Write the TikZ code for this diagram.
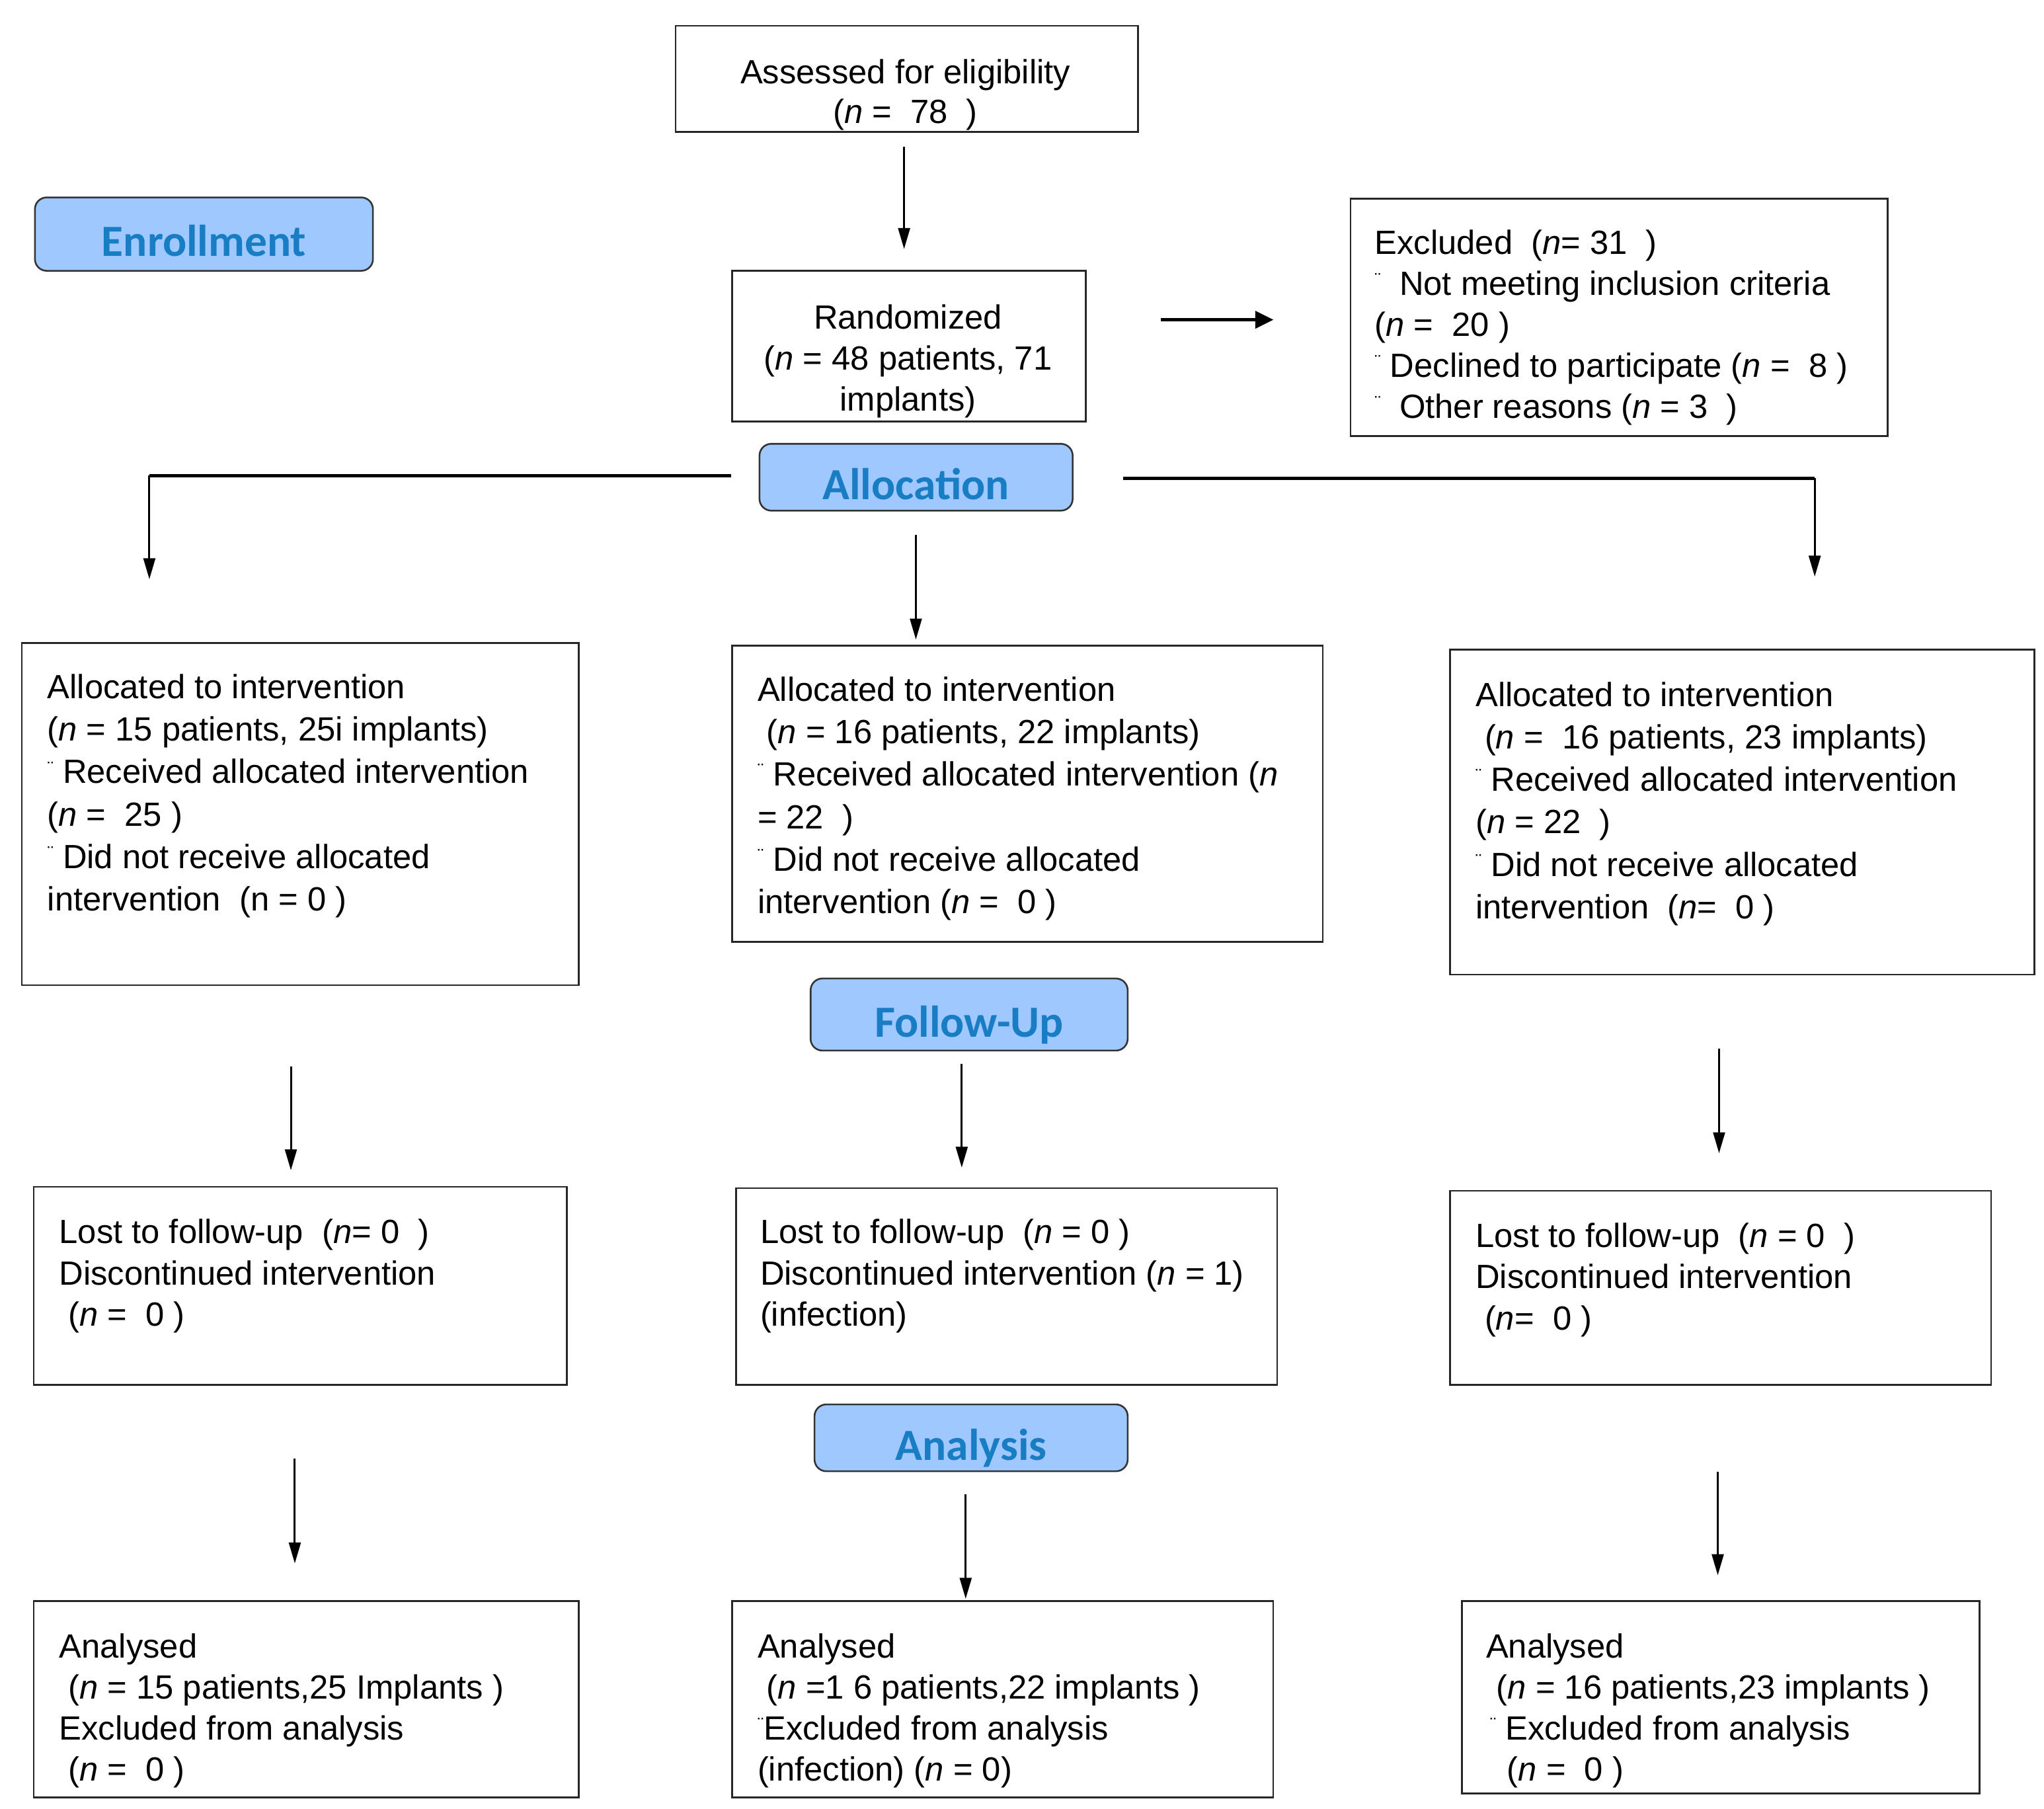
\documentclass[tikz,border=0pt]{standalone}
\usepackage{fontspec}
\setmainfont{Liberation Sans}
\newfontfamily\labfont{Carlito}
\usetikzlibrary{arrows.meta}
\definecolor{labfill}{RGB}{158,200,255}
\definecolor{labtext}{RGB}{25,125,195}
\newcommand\bul{\raisebox{7pt}{\fontsize{14}{14}\selectfont ¨}}
\newcommand\lns[1]{\begin{tabular}[t]{@{}l@{}}#1\end{tabular}}
\newcommand\clns[1]{\begin{tabular}[t]{@{}c@{}}#1\end{tabular}}
\newcommand\nn{\textit{n}}
\begin{document}
\begin{tikzpicture}[x=1pt,y=-1pt,
 box/.style={draw=black!85, line width=1.3pt, inner sep=0pt, anchor=north west},
 stage/.style={draw=black!80, line width=1.3pt, rounded corners=9pt, fill=labfill, text=labtext,
   font=\labfont\bfseries\fontsize{34}{34}\selectfont, inner sep=0pt, text height=34pt, text depth=0pt, anchor=north west},
 txt/.style={inner sep=0pt, font=\fontsize{25.6}{31.3}\selectfont},
 txtw/.style={inner sep=0pt, font=\fontsize{25.6}{32.4}\selectfont},
 arr/.style={line width=1.5pt, -{Triangle[length=16pt,width=9pt]}},
 arrthick/.style={line width=2.6pt, -{Triangle[length=14pt,width=13pt]}},
 branch/.style={line width=2.6pt},
]
\useasboundingbox (0,0) rectangle (1560,1380);

% ---------- boxes ----------
\node[box, minimum width=353pt, minimum height=81pt] (assess) at (515,19) {};
\node[box, minimum width=270pt, minimum height=115pt] (rand) at (558,206) {};
\node[box, minimum width=410pt, minimum height=181pt] (excl) at (1030,151) {};

\node[box, minimum width=425pt, minimum height=261pt] (allocL) at (16,490) {};
\node[box, minimum width=451pt, minimum height=226pt] (allocM) at (558,492) {};
\node[box, minimum width=446pt, minimum height=248pt] (allocR) at (1106,495) {};

\node[box, minimum width=407pt, minimum height=151pt] (lostL) at (25,905) {};
\node[box, minimum width=413pt, minimum height=150pt] (lostM) at (561,906) {};
\node[box, minimum width=413pt, minimum height=148pt] (lostR) at (1106,908) {};

\node[box, minimum width=416pt, minimum height=150pt] (anaL) at (25,1221) {};
\node[box, minimum width=413pt, minimum height=150pt] (anaM) at (558,1221) {};
\node[box, minimum width=395pt, minimum height=147pt] (anaR) at (1115,1221) {};

% ---------- stage labels ----------
\node[stage, minimum width=258pt, minimum height=56pt] (enr) at (26,150) {Enrollment};
\node[stage, minimum width=239pt, minimum height=51pt] (alloc) at (579,338) {Allocation};
\node[stage, minimum width=242pt, minimum height=55pt] (fu) at (618,746) {Follow-Up};
\node[stage, minimum width=239pt, minimum height=51pt] (ana) at (621,1071) {Analysis};

% ---------- texts ----------
\node[txt, anchor=base, font=\fontsize{25.6}{30}\selectfont] (assess-t) at (691,64)
  {\clns{Assessed for eligibility\\ (\nn{} =~ 78~ )}};
\node[txt, anchor=base] (rand-t) at (693,251)
  {\clns{Randomized\\ (\nn{} = 48 patients, 71\\ implants)}};
\node[txt, anchor=base west] (excl-t) at (1049,194)
  {\lns{Excluded~ (\nn= 31~ )\\ \bul{}~ Not meeting inclusion criteria\\ (\nn{} =~ 20 )\\ \bul{} Declined to participate (\nn{} =~ 8 )\\ \bul{}~ Other reasons (\nn{} = 3~ )}};

\node[txtw, anchor=base west] (allocL-t) at (36,533)
  {\lns{Allocated to intervention\\ (\nn{} = 15 patients, 25i implants)\\ \bul{} Received allocated intervention\\ (\nn{} =~ 25 )\\ \bul{} Did not receive allocated\\ intervention~ (n = 0 )}};
\node[txtw, anchor=base west] (allocM-t) at (578,535)
  {\lns{Allocated to intervention\\ \hspace{7pt}(\nn{} = 16 patients, 22 implants)\\ \bul{} Received allocated intervention (\nn\\ = 22~ )\\ \bul{} Did not receive allocated\\ intervention (\nn{} =~ 0 )}};
\node[txtw, anchor=base west] (allocR-t) at (1126,539)
  {\lns{Allocated to intervention\\ \hspace{7pt}(\nn{} =~ 16 patients, 23 implants)\\ \bul{} Received allocated intervention\\ (\nn{} = 22~ )\\ \bul{} Did not receive allocated\\ intervention~ (\nn=~ 0 )}};

\node[txt, anchor=base west] (lostL-t) at (45,949)
  {\lns{Lost to follow-up~ (\nn= 0~ )\\ Discontinued intervention\\ \hspace{7pt}(\nn{} =~ 0 )}};
\node[txt, anchor=base west] (lostM-t) at (580,949)
  {\lns{Lost to follow-up~ (\nn{} = 0 )\\ Discontinued intervention (\nn{} = 1)\\ (infection)}};
\node[txt, anchor=base west] (lostR-t) at (1126,952)
  {\lns{Lost to follow-up~ (\nn{} = 0~ )\\ Discontinued intervention\\ \hspace{7pt}(\nn=~ 0 )}};

\node[txt, anchor=base west] (anaL-t) at (45,1265)
  {\lns{Analysed\\ \hspace{7pt}(\nn{} = 15 patients,25 Implants )\\ Excluded from analysis\\ \hspace{7pt}(\nn{} =~ 0 )}};
\node[txt, anchor=base west] (anaM-t) at (578,1265)
  {\lns{Analysed\\ \hspace{7pt}(\nn{} =1 6 patients,22 implants )\\ \bul{}Excluded from analysis\\ (infection) (\nn{} = 0)}};
\node[txt, anchor=base west] (anaR-t) at (1134,1265)
  {\lns{Analysed\\ \hspace{8pt}(\nn{} = 16 patients,23 implants )\\ \hspace{3pt}\bul{} Excluded from analysis\\ \hspace{16pt}(\nn{} =~ 0 )}};

% ---------- connector end points ----------
\coordinate (c1a) at (690,112);  \coordinate (c1b) at (690,190);
\coordinate (c2a) at (886,244);  \coordinate (c2b) at (972,244);
\coordinate (bLa) at (558,363);  \coordinate (bLc) at (114,363); \coordinate (bLb) at (114,442);
\coordinate (bRa) at (857,365);  \coordinate (bRc) at (1385,365); \coordinate (bRb) at (1385,440);
\coordinate (c3a) at (699,408);  \coordinate (c3b) at (699,488);
\coordinate (fLa) at (222,814);  \coordinate (fLb) at (222,893);
\coordinate (fMa) at (734,812);  \coordinate (fMb) at (734,891);
\coordinate (fRa) at (1312,800); \coordinate (fRb) at (1312,880);
\coordinate (aLa) at (225,1113); \coordinate (aLb) at (225,1193);
\coordinate (aMa) at (737,1140); \coordinate (aMb) at (737,1220);
\coordinate (aRa) at (1311,1123);\coordinate (aRb) at (1311,1202);

% ---------- connectors ----------
\draw[arr] (c1a) -- (c1b);
\draw[arrthick] (c2a) -- (c2b);
\draw[branch] (bLa) -- (bLc);
\draw[arr] (bLc) -- (bLb);
\draw[branch] (bRa) -- (bRc);
\draw[arr] (bRc) -- (bRb);
\draw[arr] (c3a) -- (c3b);
\draw[arr] (fLa) -- (fLb);
\draw[arr] (fMa) -- (fMb);
\draw[arr] (fRa) -- (fRb);
\draw[arr] (aLa) -- (aLb);
\draw[arr] (aMa) -- (aMb);
\draw[arr] (aRa) -- (aRb);
\end{tikzpicture}
\end{document}
